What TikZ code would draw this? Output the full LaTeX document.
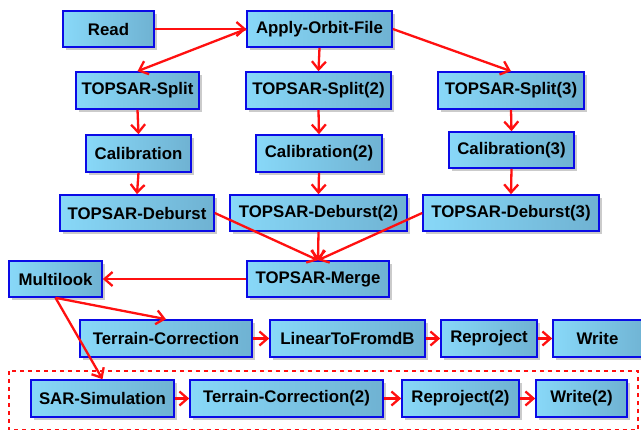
\documentclass[tikz,border=0pt]{standalone}
\usepackage{fontspec}
\setmainfont{Liberation Sans}
\usetikzlibrary{arrows.meta,shadows}
\definecolor{boxL}{HTML}{88D8F8}
\definecolor{boxR}{HTML}{6FB2D2}
\definecolor{boxB}{HTML}{0A0AE6}
\definecolor{arr}{HTML}{FF1010}
\tikzset{
  box/.style={draw=boxB, line width=1.6pt, left color=boxL, right color=boxR, inner sep=0pt,
    font=\fontsize{16.8}{18}\selectfont\bfseries,
    drop shadow={shadow xshift=2.5pt, shadow yshift=-2.5pt, fill=black!45, opacity=0.45}},
  flow/.style={draw=arr, line width=2.3pt, -{Straight Barb[length=8pt,width=14pt]}},
  grp/.style={draw=arr, line width=1.6pt, dash pattern=on 4pt off 4pt}
}
\newcommand\bx[6]{\node[box, minimum width={(#4-#2)*1pt}, minimum height={(#5-#3)*1pt}] (#1) at ({(#2+#4)/2},{(#3+#5)/2}) {#6};}
\begin{document}
\begin{tikzpicture}[x=1pt,y=-1pt]
\useasboundingbox (0,0) rectangle (641,431);
\clip (0,0) rectangle (641,431);
\fill[white] (0,0) rectangle (641,431);
\draw[grp] (9,371) rectangle (638,429.5);
\bx{read}{63}{11}{154}{47}{Read}
\bx{apply}{247}{11}{392}{47}{Apply-Orbit-File}
\bx{split1}{76}{72}{199}{109}{TOPSAR-Split}
\bx{split2}{246}{72}{391}{109}{TOPSAR-Split(2)}
\bx{split3}{438}{72}{584}{109}{TOPSAR-Split(3)}
\bx{cal1}{86}{135}{191}{172}{Calibration}
\bx{cal2}{256}{135}{382}{172}{Calibration(2)}
\bx{cal3}{449}{132}{574}{168}{Calibration(3)}
\bx{deb1}{60}{195}{214}{231}{TOPSAR-Deburst}
\bx{deb2}{230}{195}{407}{231}{TOPSAR-Deburst(2)}
\bx{deb3}{423}{195}{599}{231}{TOPSAR-Deburst(3)}
\bx{multi}{9}{261}{102}{297}{Multilook}
\bx{merge}{247}{261}{389}{297}{TOPSAR-Merge}
\bx{tc}{80}{320}{252}{357}{Terrain-Correction}
\bx{lin}{270}{320}{425}{357}{LinearToFromdB}
\bx{rep}{441}{320}{537}{357}{Reproject}
\node[box, minimum width=95pt, minimum height=37pt] (write) at (600.5,338.5) {\hspace*{-6pt}Write};
\bx{sar}{31}{380}{174}{417}{SAR-Simulation}
\bx{tc2}{190}{380}{383}{417}{Terrain-Correction(2)}
\bx{rep2}{402}{380}{519}{417}{Reproject(2)}
\bx{write2}{536}{380}{627}{417}{Write(2)}
\draw[flow] (read.east) -- (apply.west);
\draw[flow] (apply.west) -- (split1.north);
\draw[flow] (apply.south) -- (split2.north);
\draw[flow] (apply.east) -- (split3.north);
\draw[flow] (split1.south) -- (cal1.north);
\draw[flow] (cal1.south) -- (deb1.north);
\draw[flow] (split2.south) -- (cal2.north);
\draw[flow] (cal2.south) -- (deb2.north);
\draw[flow] (split3.south) -- (cal3.north);
\draw[flow] (cal3.south) -- (deb3.north);
\draw[flow] (deb1.east) -- (merge.north);
\draw[flow] (deb2.south) -- (merge.north);
\draw[flow] (deb3.west) -- (merge.north);
\draw[flow] (merge.west) -- (multi.east);
\draw[flow] (multi.south) -- (tc.north);
\draw[flow] (multi.south) -- (sar.north);
\draw[flow] (tc.east) -- (lin.west);
\draw[flow] (lin.east) -- (rep.west);
\draw[flow] (rep.east) -- (write.west);
\draw[flow] (sar.east) -- (tc2.west);
\draw[flow] (tc2.east) -- (rep2.west);
\draw[flow] (rep2.east) -- (write2.west);
\end{tikzpicture}
\end{document}
